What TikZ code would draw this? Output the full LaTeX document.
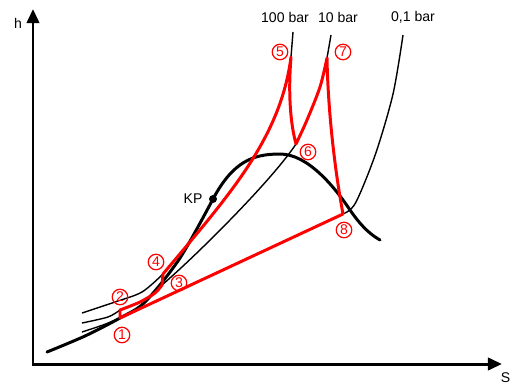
\documentclass[tikz,border=0pt]{standalone}
\usepackage{fontspec}
\setmainfont{Liberation Sans}
\usepackage{tikz}
\usetikzlibrary{arrows.meta,positioning}
\tikzset{
  axis line/.style={line width=1.7pt,<->,>={Triangle[length=8pt,width=7pt]}},
  dome line/.style={line width=1.7pt,line cap=round},
  isobar line/.style={line width=0.8pt},
  cycle line/.style={red,line width=1.7pt,line join=round},
  state label/.style={circle,draw=red,text=red,line width=0.7pt,inner sep=0pt,
    minimum size=0.31cm,font=\fontsize{8}{8}\selectfont},
  plain label/.style={font=\fontsize{8}{9.6}\selectfont},
}

\begin{document}
\begin{tikzpicture}
    \useasboundingbox (-0.66,-0.42) rectangle (9.54,7.28);

              % axes
              \coordinate (O) at (0,0);
              \coordinate (htip) at (0,7.10);
              \coordinate (stip) at (9.38,0);
              \draw[axis line] (htip) -- (O) -- (stip);
              \node[plain label] (h) at (-0.30,6.82) {h};
              \node[plain label] (s) at (9.45,-0.28) {S};

              % state points of the cycle
              \coordinate (p1) at (1.74,0.92);
              \coordinate (p2) at (1.74,1.08);
              \coordinate (p3) at (2.58,1.58);
              \coordinate (p4) at (2.60,1.80);
              \coordinate (p5) at (5.16,6.14);
              \coordinate (p6) at (5.26,4.40);
              \coordinate (p7) at (5.88,6.12);
              \coordinate (p8) at (6.20,3.00);
              \coordinate (KP) at (3.60,3.30);

              % isobars
              \draw[isobar line] plot[smooth] coordinates {(0.98,1.02) (1.64,1.24) (2.18,1.44) (p4)};
              \draw[isobar line] (p5) -- (5.20,6.64);
              \draw[isobar line] plot[smooth] coordinates {(0.98,0.82) (1.50,0.94) (p2)};
              \draw[isobar line] (p3) .. controls (3.30,2.20) and (4.80,3.70) .. (p6);
              \draw[isobar line] (p7) -- (5.96,6.58);
              \draw[isobar line] plot[smooth] coordinates {(0.98,0.64) (1.40,0.78) (p1)};
              \draw[isobar line] plot[smooth] coordinates {(p8) (6.45,3.22) (6.85,4.20) (7.20,5.40) (7.40,6.58)};
              \node[plain label] (b100) at (5.04,6.94) {100 bar};
              \node[plain label] (b10) at (6.10,6.94) {10 bar};
              \node[plain label] (b01) at (7.60,6.94) {0,1 bar};

              % saturation dome
              \draw[dome line] plot[smooth] coordinates {(0.28,0.24) (1.04,0.56) (p1) (2.24,1.24) (2.94,2.12) (KP)}
                .. controls (4.00,4.05) and (4.40,4.20) .. (4.94,4.20)
                .. controls (5.50,4.20) and (6.04,3.53) .. (6.34,3.08)
                .. controls (6.60,2.70) and (6.80,2.56) .. (6.94,2.48);
              \node[circle,fill,inner sep=0pt,minimum size=0.16cm] (kpdot) at (KP) {};
              \node[plain label,left=0pt of kpdot] (kplabel) {KP};

              % cycle
              \draw[cycle line] (p8) -- (p1) -- (p2)
                -- plot[smooth] coordinates {(p2) (2.14,1.24) (2.44,1.42) (p3)}
                -- (p4)
                .. controls (3.90,3.35) and (4.95,4.50) .. (p5)
                .. controls (5.10,5.40) and (5.15,4.80) .. (p6)
                -- plot[smooth] coordinates {(p6) (5.48,4.88) (5.74,5.54) (p7)}
                .. controls (5.90,5.00) and (6.05,3.80) .. (p8);

              % state labels
              \node[state label] (n1) at (1.78,0.58) {1};
              \node[state label] (n2) at (1.74,1.34) {2};
              \node[state label] (n3) at (2.92,1.62) {3};
              \node[state label] (n4) at (2.46,2.04) {4};
              \node[state label] (n5) at (4.94,6.24) {5};
              \node[state label] (n6) at (5.50,4.24) {6};
              \node[state label] (n7) at (6.20,6.24) {7};
              \node[state label] (n8) at (6.22,2.68) {8};
            \end{tikzpicture}
\end{document}
